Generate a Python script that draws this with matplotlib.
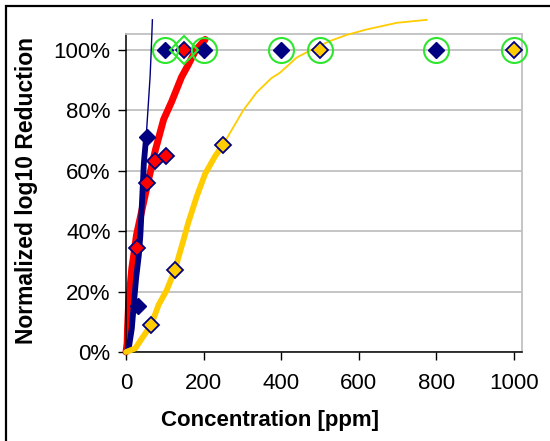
import matplotlib
matplotlib.use("Agg")
import matplotlib.pyplot as plt
from matplotlib.patches import Rectangle
from matplotlib.ticker import PercentFormatter

plt.rcParams['font.family'] = ['Liberation Sans', 'DejaVu Sans']

# measured points
blue_x = [32, 53, 100, 200, 400, 800]
blue_y = [0.152, 0.713, 1.0, 1.0, 1.0, 1.0]
red_x = [28, 54, 75, 103, 150]
red_y = [0.343, 0.56, 0.632, 0.649, 1.0]
yellow_x = [65, 126, 250, 500, 1000]
yellow_y = [0.088, 0.272, 0.686, 1.0, 1.0]

# fitted curves (thick part = range of the data, thin part = extrapolation)
red_fit_x = [0, 3, 4, 7, 15, 22, 27, 41, 58, 76, 97, 118, 143, 160, 180, 204]
red_fit_y = [0, 0.03, 0.08, 0.167, 0.277, 0.34, 0.387, 0.47, 0.57, 0.67, 0.77,
             0.83, 0.91, 0.95, 1.0, 1.035]
blue_fit_x = [0, 7, 15, 20, 26, 33, 37, 41, 46, 52]
blue_fit_y = [0, 0.012, 0.078, 0.156, 0.244, 0.32, 0.387, 0.49, 0.625, 0.713]
blue_ext_x = [52, 57, 62, 64, 66, 68]
blue_ext_y = [0.713, 0.81, 0.91, 0.967, 1.03, 1.10]
yellow_fit_x = [0, 24, 41, 65, 84, 105, 126, 148, 160, 182, 204, 229, 250]
yellow_fit_y = [0, 0.012, 0.045, 0.09, 0.156, 0.205, 0.272, 0.37, 0.426, 0.514,
                0.59, 0.647, 0.686]
yellow_ext_x = [250, 302, 337, 375, 397, 440, 483, 526, 569, 620, 698, 775]
yellow_ext_y = [0.686, 0.80, 0.86, 0.907, 0.925, 0.975, 1.004, 1.03, 1.05,
                1.068, 1.09, 1.10]

# complete-reduction points, highlighted
circle_x = [100, 200, 400, 500, 800, 1000]
circle_y = [1.0, 1.0, 1.0, 1.0, 1.0, 1.0]
hl_diamond_x = [150]
hl_diamond_y = [1.0]

navy = '#000080'
red = '#FF0000'
gold = '#FFCC00'
green = '#2EE62E'
grid_gray = '#C0C0C0'

fig = plt.figure(figsize=(5.5, 4.41), dpi=100)
ax = fig.add_axes([126 / 550, 1 - 352 / 441, 396 / 550, 318 / 441])

ax.set_xlim(0, 1020.6)
ax.set_ylim(0, 1.053)

ax.plot(red_fit_x, red_fit_y, color=red, lw=5, zorder=2, clip_on=False,
        solid_capstyle='round')
ax.plot(blue_fit_x, blue_fit_y, color=navy, lw=4.2, zorder=3, clip_on=False,
        solid_capstyle='round')
ax.plot(blue_ext_x, blue_ext_y, color=navy, lw=1.0, zorder=3, clip_on=False)
ax.plot(yellow_fit_x, yellow_fit_y, color=gold, lw=4.2, zorder=3, clip_on=False,
        solid_capstyle='round')
ax.plot(yellow_ext_x, yellow_ext_y, color=gold, lw=1.3, zorder=3, clip_on=False)

ax.plot(blue_x, blue_y, 'D', ms=8, color=navy, mec=navy, zorder=5, clip_on=False)
ax.plot(red_x, red_y, 'D', ms=8, color=red, mec=navy, mew=1.3, zorder=5,
        clip_on=False)
ax.plot(yellow_x, yellow_y, 'D', ms=8, color=gold, mec=navy, mew=1.3, zorder=5,
        clip_on=False)

ax.plot(circle_x, circle_y, 'o', ms=18, mfc='none', mec=green, mew=1.5,
        zorder=6, clip_on=False)
ax.plot(hl_diamond_x, hl_diamond_y, 'D', ms=14, mfc='none', mec=green, mew=1.5,
        zorder=6, clip_on=False)

ax.set_xticks([0, 200, 400, 600, 800, 1000])
ax.set_yticks([0, 0.2, 0.4, 0.6, 0.8, 1.0])
ax.yaxis.set_major_formatter(PercentFormatter(1.0, decimals=0))
ax.tick_params(axis='x', direction='out', length=5.5, width=1, pad=9.5,
               labelsize=16, colors='black')
ax.tick_params(axis='y', direction='out', length=6, width=1, pad=5,
               labelsize=16, colors='black')

ax.grid(axis='y', color=grid_gray, lw=1.3)
ax.set_axisbelow(True)
for side in ['top', 'right']:
    ax.spines[side].set_color(grid_gray)
    ax.spines[side].set_linewidth(1.3)
for side in ['left', 'bottom']:
    ax.spines[side].set_color('black')
    ax.spines[side].set_linewidth(1.1)

ax.set_xlabel('Concentration [ppm]', fontsize=16, fontweight='bold')
ax.set_ylabel('Normalized log10 Reduction', fontsize=16.5, fontweight='bold')
ax.xaxis.set_label_coords(0.364, -0.182)
ax.yaxis.set_label_coords(-0.222, 0.509)

# chart frame
fig.patches.append(Rectangle((6 / 550, -0.1), 1.2, 1.1 - 5.5 / 441,
                             transform=fig.transFigure, fill=False,
                             edgecolor='black', lw=1.6, clip_on=False))

fig.savefig('out.png', dpi=100)
